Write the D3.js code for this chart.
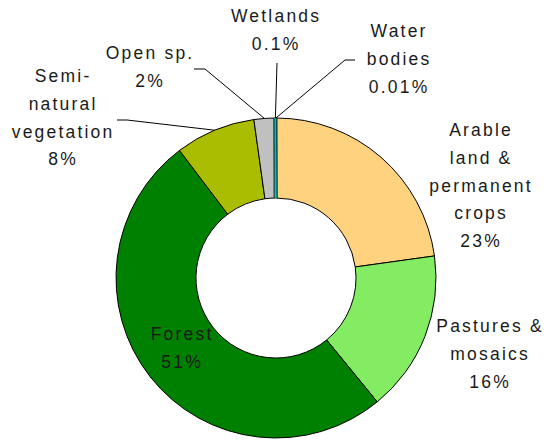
<!DOCTYPE html>
<html>
<head>
<meta charset="utf-8">
<script src="https://cdn.jsdelivr.net/npm/d3@7"></script>
<style>
  html, body { margin: 0; padding: 0; background: #fff; }
  svg { display: block; }
  text { font-family: "Liberation Sans", Arial, sans-serif; font-size: 17.5px; letter-spacing: 2.2px; fill: #1a1a1a; }
</style>
</head>
<body>
<svg id="chart" width="544" height="442"></svg>
<script>
// ---- data ----
const categories = ["Arable land & permanent crops", "Pastures & mosaics", "Forest",
  "Semi-natural vegetation", "Open sp.", "Wetlands", "Water bodies"];
const values = [22.8, 16.3, 50.6, 8.1, 2.1, 0.1, 0.01];
const pctLabels = ["23%", "16%", "51%", "8%", "2%", "0.1%", "0.01%"];
const nameLines = [["Arable", "land &", "permanent", "crops"], ["Pastures &", "mosaics"], ["Forest"],
  ["Semi-", "natural", "vegetation"], ["Open sp."], ["Wetlands"], ["Water", "bodies"]];
const colors = ["#FFD280", "#84EC62", "#008000", "#AABD00", "#C0C0C0", "#00BEBE", "#1F4FD0"];

// ---- layout ----
const cx = 276, cy = 278, outerR = 160, innerR = 80, lineH = 27.8;
const labelPos = [
  { x: 480, y: 136 }, { x: 489, y: 332 }, { x: 181, y: 340 },
  { x: 62, y: 82 }, { x: 149, y: 59 }, { x: 275, y: 22 }, { x: 398, y: 37 }
];
// leader polylines: elbow point(s) after the slice edge
const leaders = {
  3: [[127, 120], [117, 120]],
  4: [[205, 69], [194, 69]],
  5: [[277, 63]],
  6: [[345, 60], [355, 60]]
};

const data = categories.map((c, i) => ({ name: c, value: values[i], i }));
const svg = d3.select("#chart");
const g = svg.append("g").attr("transform", `translate(${cx},${cy})`);

const pie = d3.pie().value(d => d.value).sort(null).startAngle(0).endAngle(2 * Math.PI);
const arcs = pie(data);
const arc = d3.arc().innerRadius(innerR).outerRadius(outerR);

g.selectAll("path.slice").data(arcs).join("path")
  .attr("class", "slice")
  .attr("d", arc)
  .attr("fill", d => colors[d.data.i])
  .attr("stroke", "#000")
  .attr("stroke-width", 1)
  .attr("stroke-linejoin", "round");

// tiny slices get a minimum visible width
arcs.filter(d => d.endAngle - d.startAngle < 0.01 && d.data.value >= 0.1).forEach(d => {
  const a = (d.startAngle + d.endAngle) / 2;
  g.append("line")
    .attr("x1", innerR * Math.sin(a)).attr("y1", -innerR * Math.cos(a))
    .attr("x2", outerR * Math.sin(a)).attr("y2", -outerR * Math.cos(a))
    .attr("stroke", colors[d.data.i]).attr("stroke-width", 2.4);
  [-1.6, 1.6].forEach(off => {
    const px = Math.cos(a) * off, py = Math.sin(a) * off;
    g.append("line")
      .attr("x1", innerR * Math.sin(a) + px).attr("y1", -innerR * Math.cos(a) + py)
      .attr("x2", outerR * Math.sin(a) + px).attr("y2", -outerR * Math.cos(a) + py)
      .attr("stroke", "#000").attr("stroke-width", 0.8);
  });
});

// leader lines
Object.keys(leaders).forEach(k => {
  const d = arcs[+k];
  const a = (d.startAngle + d.endAngle) / 2;
  const start = [cx + outerR * Math.sin(a), cy - outerR * Math.cos(a)];
  const pts = [start].concat(leaders[k]);
  svg.append("path")
    .attr("d", d3.line()(pts))
    .attr("fill", "none")
    .attr("stroke", "#000")
    .attr("stroke-width", 1);
});

// labels
data.forEach((d, i) => {
  const lines = nameLines[i].concat([pctLabels[i]]);
  const t = svg.append("text")
    .attr("text-anchor", "middle")
    .attr("x", labelPos[i].x + 1.1)
    .attr("y", labelPos[i].y);
  lines.forEach((ln, j) => {
    t.append("tspan")
      .attr("x", labelPos[i].x + 1.1)
      .attr("y", labelPos[i].y + j * lineH)
      .text(ln);
  });
});
</script>
</body>
</html>
